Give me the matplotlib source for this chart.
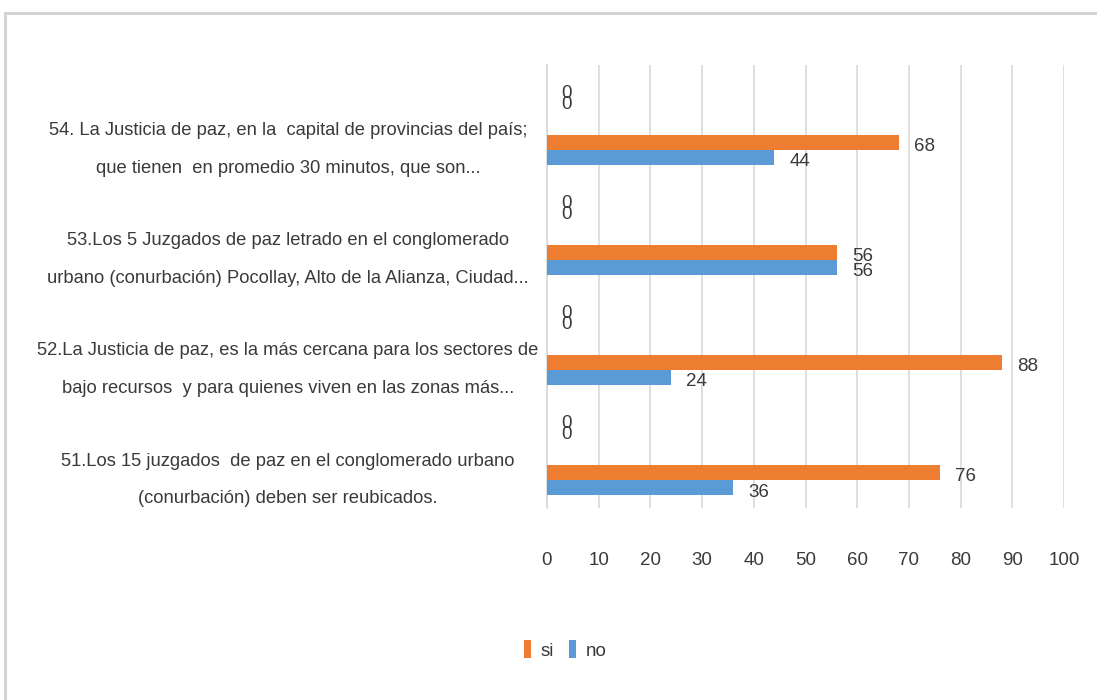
import matplotlib.pyplot as plt
import matplotlib.transforms as mtransforms
from matplotlib.lines import Line2D

plt.rcParams['font.family'] = ['Liberation Sans', 'DejaVu Sans']

# data (bottom to top)
categories = [
    "51.Los 15 juzgados  de paz en el conglomerado urbano\n(conurbación) deben ser reubicados.",
    "52.La Justicia de paz, es la más cercana para los sectores de\nbajo recursos  y para quienes viven en las zonas más...",
    "53.Los 5 Juzgados de paz letrado en el conglomerado\nurbano (conurbación) Pocollay, Alto de la Alianza, Ciudad...",
    "54. La Justicia de paz, en la  capital de provincias del país;\nque tienen  en promedio 30 minutos, que son...",
]
si = [76, 88, 56, 68]
no = [36, 24, 56, 44]
empty_a = [0, 0, 0, 0]
empty_b = [0, 0, 0, 0]
xticks = [0, 10, 20, 30, 40, 50, 60, 70, 80, 90, 100]

orange = '#ED7D31'
blue = '#5B9BD5'
txt = '#3a3a3a'
fs = 13.5

fig = plt.figure(figsize=(10.97, 7.0), dpi=100)
ax = fig.add_axes([547/1097, 1 - 508/700, (1064 - 547)/1097, (508 - 65)/700])

ypos = list(range(len(categories)))
h = 0.136
ax.barh([y + h/2 for y in ypos], si, height=h, color=orange, label='si', zorder=3)
ax.barh([y - h/2 for y in ypos], no, height=h, color=blue, label='no', zorder=3)

# labels of the two empty series sit almost on top of each other, as in the original
for y, a, b in zip(ypos, empty_a, empty_b):
    ax.annotate(str(a), (a, y + 0.51), xytext=(10, 0), textcoords='offset points',
                ha='left', va='center', fontsize=fs, color=txt)
    ax.annotate(str(b), (b, y + 0.41), xytext=(10, 0), textcoords='offset points',
                ha='left', va='center', fontsize=fs, color=txt)
for y, a, b in zip(ypos, si, no):
    ax.annotate(str(a), (a, y + 0.03), xytext=(11, 0), textcoords='offset points',
                ha='left', va='center', fontsize=fs, color=txt)
    ax.annotate(str(b), (b, y - 0.11), xytext=(11, 0), textcoords='offset points',
                ha='left', va='center', fontsize=fs, color=txt)

ax.set_xlim(0, 100)
ax.set_ylim(-0.255, 3.77)
ax.set_xticks(xticks)
ax.set_xticklabels([str(t) for t in xticks], fontsize=fs, color=txt)
ax.tick_params(axis='x', length=0, pad=32)
ax.set_yticks([])
ax.grid(axis='x', color='#d9d9d9', linewidth=1.2, zorder=0)
for s in ['top', 'right', 'bottom']:
    ax.spines[s].set_visible(False)
ax.spines['left'].set_color('#d9d9d9')
ax.spines['left'].set_linewidth(1.2)

# category labels, centered left of the plot
trans = mtransforms.blended_transform_factory(fig.transFigure, ax.transData)
for y, lab in zip(ypos, categories):
    ax.text(288/1097, y, lab, transform=trans, ha='center', va='center',
            fontsize=13.2, color=txt, linespacing=2.6)

fig.legend(loc='center', bbox_to_anchor=(565/1097, 1 - 650/700), ncol=2, frameon=False,
           fontsize=fs, handlelength=0.4, handleheight=1.1, handletextpad=0.5,
           columnspacing=0.8, labelcolor=txt)

# chart frame (cut off at the right and bottom)
fig.add_artist(Line2D([5/1097, 1], [1 - 13/700, 1 - 13/700], transform=fig.transFigure,
                      color='#d0d0d0', linewidth=2))
fig.add_artist(Line2D([5/1097, 5/1097], [1 - 13/700, 0], transform=fig.transFigure,
                      color='#d0d0d0', linewidth=2))

fig.savefig('out.png', dpi=100)
